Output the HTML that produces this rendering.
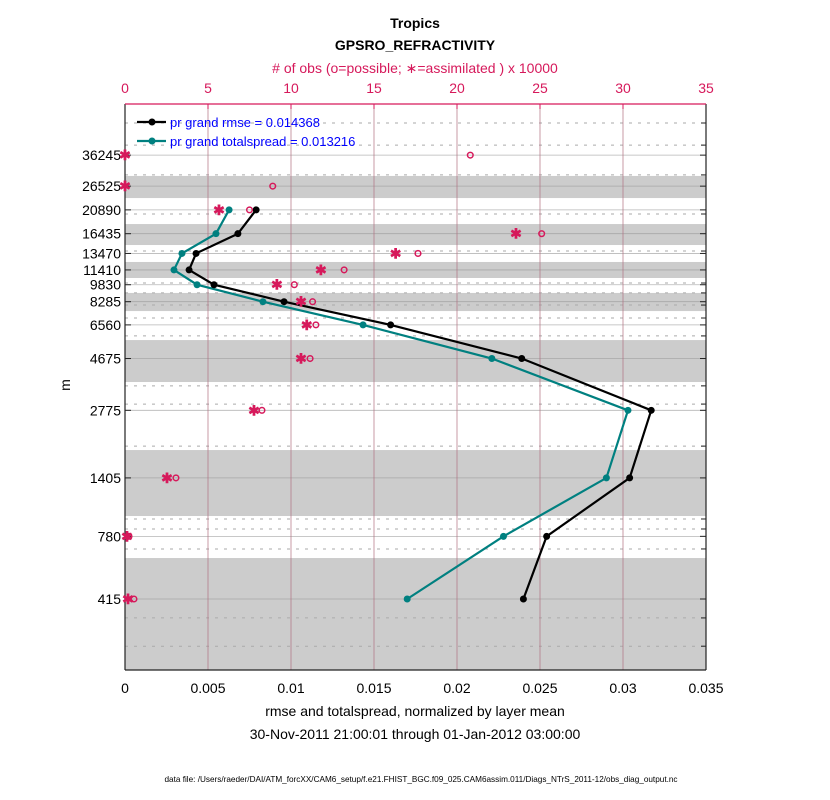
<!DOCTYPE html>
<html><head><meta charset="utf-8"><style>
body{margin:0;background:#fff;}
svg{display:block;font-family:"Liberation Sans",sans-serif;}
</style></head><body>
<svg id="chart" width="830" height="800" viewBox="0 0 830 800">
<text x="415" y="28" text-anchor="middle" font-size="14" font-weight="bold">Tropics</text>
<text x="415" y="50" text-anchor="middle" font-size="14" font-weight="bold">GPSRO_REFRACTIVITY</text>
<text x="415" y="73" text-anchor="middle" font-size="14" fill="#d6195b"># of obs (o=possible; ∗=assimilated ) x 10000</text>
<text x="415" y="716" text-anchor="middle" font-size="14">rmse and totalspread, normalized by layer mean</text>
<text x="415" y="739" text-anchor="middle" font-size="14">30-Nov-2011 21:00:01 through 01-Jan-2012 03:00:00</text>
<text x="421" y="782" text-anchor="middle" font-size="8.2">data file: /Users/raeder/DAI/ATM_forcXX/CAM6_setup/f.e21.FHIST_BGC.f09_025.CAM6assim.011/Diags_NTrS_2011-12/obs_diag_output.nc</text>
<text transform="translate(70,385) rotate(-90)" text-anchor="middle" font-size="14">m</text>
<g id="plot"></g>
</svg>
<script>
const levels=[36245,26525,20890,16435,13470,11410,9830,8285,6560,4675,2775,1405,780,415];
const rmse=[null,null,0.0079,0.0068,0.00428,0.00386,0.00536,0.00958,0.0160,0.0239,0.0317,0.0304,0.0254,0.0240];
const spread=[null,null,0.00627,0.00548,0.00343,0.00295,0.00434,0.00831,0.01434,0.0221,0.0303,0.0290,0.0228,0.0170];
const obsPossible=[20.8,8.9,7.5,25.1,17.65,13.2,10.2,11.3,11.5,11.15,8.25,3.07,0.24,0.54];
const obsAssim=[0,0,5.66,23.55,16.3,11.8,9.15,10.6,10.95,10.6,7.77,2.53,0.12,0.18];
const bandTops=[29400,18110,12360,9050,5630,1860,627];
const bandBottoms=[23530,14660,10520,7540,3690,957,203];
const dashedLevels=[50100,40100,29700,20040,13800,10000,9050,8010,7030,5870,3550,2955,1935,929,840,687,343,258];
const xTicks=[0,0.005,0.01,0.015,0.02,0.025,0.03,0.035];
const xTickLabels=["0","0.005","0.01","0.015","0.02","0.025","0.03","0.035"];
const topTicks=[0,5,10,15,20,25,30,35];
const rmseLabel="pr grand rmse = 0.014368";
const spreadLabel="pr grand totalspread = 0.013216";

const L=125,R=706,T=104,B=670;
const xs=v=>L+v/0.035*(R-L);
const xt=v=>L+v/35*(R-L);
const ys=h=>599-(Math.log(h)-Math.log(415))*99.3;
const NS="http://www.w3.org/2000/svg";
const g=document.getElementById('plot');
function mk(tag,attrs,parent){const e=document.createElementNS(NS,tag);for(const k in attrs)e.setAttribute(k,attrs[k]);(parent||g).appendChild(e);return e;}

bandTops.forEach((t,i)=>{const y1=Math.max(T,ys(t)),y2=Math.min(B,ys(bandBottoms[i]));
const r=mk('rect',{x:L,y:y1,width:R-L,height:y2-y1,fill:'#cccccc'});

});
dashedLevels.forEach(h=>{const y=ys(h);
const l=mk('line',{x1:L,x2:R,y1:y,y2:y,stroke:'#aaaaaa','stroke-dasharray':'3,6','stroke-width':1});


mk('line',{x1:R-5,x2:R,y1:y,y2:y,stroke:'#222'});});
levels.forEach(h=>{const y=ys(h);
const l=mk('line',{x1:L,x2:R,y1:y,y2:y,stroke:'#999','stroke-width':0.8,'stroke-opacity':0.7});


mk('line',{x1:R-6,x2:R,y1:y,y2:y,stroke:'#222'});mk('line',{x1:L,x2:L+6,y1:y,y2:y,stroke:'#222'});
const t=mk('text',{x:L-4,y:y+5,'text-anchor':'end','font-size':14});t.textContent=h;

});
xTicks.forEach((v,i)=>{const x=xs(v);
if(i>0&&i<xTicks.length-1){const l=mk('line',{x1:x,x2:x,y1:T,y2:B,stroke:'#b07080','stroke-width':0.7});

}
const t=mk('text',{x:x,y:693,'text-anchor':'middle','font-size':14});t.textContent=xTickLabels[i];

});
topTicks.forEach(v=>{const x=xt(v);
mk('line',{x1:x,x2:x,y1:T,y2:T+5,stroke:'#d6195b'});
const t=mk('text',{x:x,y:93,'text-anchor':'middle','font-size':14,fill:'#d6195b'});t.textContent=v;

});
mk('line',{x1:L,x2:R,y1:B,y2:B,stroke:'#222','stroke-width':1.2});
mk('line',{x1:L,x2:L,y1:T,y2:B,stroke:'#222','stroke-width':1.2});
mk('line',{x1:R,x2:R,y1:T,y2:B,stroke:'#222','stroke-width':1.2});
mk('line',{x1:L,x2:R,y1:T,y2:T,stroke:'#d6195b','stroke-width':1.2});

function series(vals,color,name){const pts=[];vals.forEach((v,i)=>{if(v!=null)pts.push([xs(v),ys(levels[i])]);});
const p=mk('polyline',{points:pts.map(p=>p.join(',')).join(' '),fill:'none',stroke:color,'stroke-width':2.2});


pts.forEach(q=>{const c=mk('circle',{cx:q[0],cy:q[1],r:3.5,fill:color});

});}
series(spread,'#008080','spread');
series(rmse,'#000000','rmse');

obsPossible.forEach((v,i)=>{const c=mk('circle',{cx:xt(v),cy:ys(levels[i]),r:2.8,fill:'none',stroke:'#d6195b','stroke-width':1.5});

});
obsAssim.forEach((v,i)=>{const t=mk('text',{x:xt(v),y:ys(levels[i])+5,'text-anchor':'middle','font-size':14,'font-weight':'bold',fill:'#d6195b'});t.textContent='✱';

});

[[rmseLabel,'#000',122],[spreadLabel,'#008080',141]].forEach(([lab,col,y],i)=>{
mk('line',{x1:137,x2:166,y1:y,y2:y,stroke:col,'stroke-width':2.2});mk('circle',{cx:152,cy:y,r:3.5,fill:col});
const t=mk('text',{x:170,y:y+5,'font-size':13,fill:'#0000ff'});t.textContent=lab;

});
</script>
</body></html>
